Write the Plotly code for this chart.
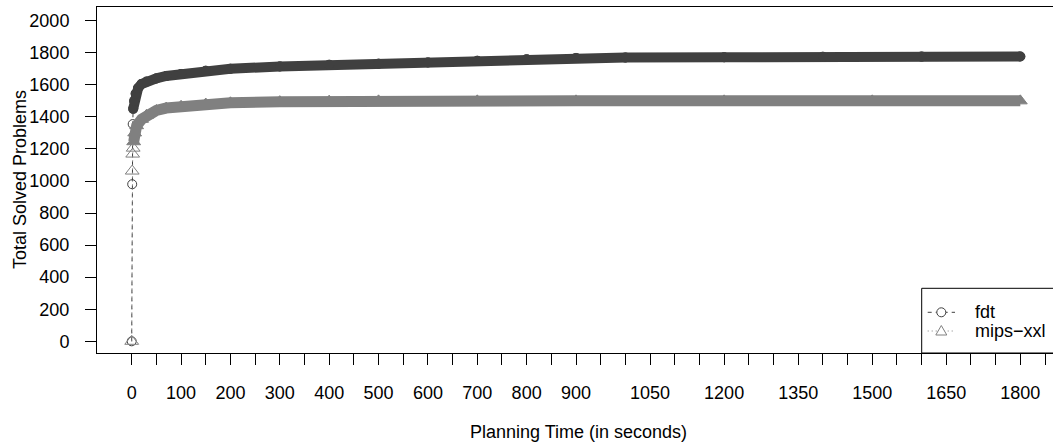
import plotly.graph_objects as go

# ---------------- data ----------------
fdt_time = [0, 1, 2, 3, 5, 8, 13, 20, 30, 50, 70, 100, 150, 200, 300, 400, 500,
            600, 700, 800, 900, 1000, 1200, 1400, 1600, 1800]
fdt_solved = [0, 980, 1355, 1450, 1500, 1545, 1580, 1605, 1620, 1640, 1655, 1668,
              1688, 1700, 1715, 1725, 1732, 1740, 1750, 1760, 1768, 1770, 1772,
              1775, 1776, 1777]

mips_time = [0, 1, 2, 3, 4, 6, 10, 20, 30, 50, 70, 100, 150, 200, 300, 400, 500,
             700, 900, 1200, 1500, 1800]
mips_solved = [0, 1062, 1168, 1205, 1245, 1300, 1345, 1385, 1410, 1440, 1455,
               1466, 1480, 1488, 1495, 1498, 1500, 1500, 1500, 1500, 1500, 1500]

series_names = ["fdt", "mips\u2212xxl"]
x_tick_values = list(range(0, 1851, 50))
x_tick_labeled = [0, 100, 200, 300, 400, 500, 600, 700, 800, 900,
                  1050, 1200, 1350, 1500, 1650, 1800]
y_tick_values = list(range(0, 2001, 200))

# ---------------- styling / geometry ----------------
W, H = 1053, 444
ML, MR, MT, MB = 97, 0, 7, 91
PW, PH = W - ML - MR, H - MT - MB
FONT = "Liberation Sans, Arial, Helvetica, sans-serif"
FS = 18
FDT_COLOR = "#404040"
MIPS_COLOR = "#808080"


def px_x(px):
    return (px - ML) / PW


def px_y(py):
    return (H - MB - py) / PH


x_tick_text = [str(v) if v in x_tick_labeled else "" for v in x_tick_values]

fdt_band_start = fdt_time.index(3)
mips_band_start = mips_time.index(4)

fig = go.Figure()

# thin connecting lines with open symbols (all points)
fig.add_trace(go.Scatter(
    x=fdt_time, y=fdt_solved, mode="lines+markers", name=series_names[0],
    line=dict(color=FDT_COLOR, width=1, dash="4px,4px"),
    marker=dict(symbol="circle-open", size=9, color=FDT_COLOR, line=dict(width=1)),
    showlegend=False, hoverinfo="skip"))
fig.add_trace(go.Scatter(
    x=mips_time, y=mips_solved, mode="lines+markers", name=series_names[1],
    line=dict(color=MIPS_COLOR, width=1, dash="1px,3px"),
    marker=dict(symbol="triangle-up-open", size=12, color=MIPS_COLOR, line=dict(width=1)),
    showlegend=False, hoverinfo="skip"))

# dense overlapping symbols form a thick band
fig.add_trace(go.Scatter(
    x=fdt_time[fdt_band_start:], y=fdt_solved[fdt_band_start:], mode="lines+markers",
    line=dict(color=FDT_COLOR, width=10),
    marker=dict(symbol="circle", size=10, color=FDT_COLOR),
    showlegend=False, hoverinfo="skip"))
fig.add_trace(go.Scatter(
    x=mips_time[mips_band_start:], y=mips_solved[mips_band_start:], mode="lines+markers",
    line=dict(color=MIPS_COLOR, width=11),
    marker=dict(symbol="triangle-up", size=12, color=MIPS_COLOR),
    showlegend=False, hoverinfo="skip"))

# ---------------- legend (drawn by hand, R style) ----------------
shapes = []
annotations = []
leg_left, leg_top = 921.7, 288.3
shapes.append(dict(type="rect", xref="paper", yref="paper",
                   x0=px_x(leg_left), x1=px_x(1075), y0=px_y(H - MB), y1=px_y(leg_top),
                   line=dict(color="black", width=1), fillcolor="white", layer="above"))
rows = [(312.3, FDT_COLOR, "4px,4px", "circle"), (331.0, MIPS_COLOR, "1px,3px", "triangle")]
for (ry, col, dash, sym), name in zip(rows, series_names):
    shapes.append(dict(type="line", xref="paper", yref="paper",
                       x0=px_x(927.7), x1=px_x(955), y0=px_y(ry), y1=px_y(ry),
                       line=dict(color=col, width=1, dash=dash)))
    cx = 941.3
    if sym == "circle":
        shapes.append(dict(type="circle", xref="paper", yref="paper",
                           x0=px_x(cx - 4.5), x1=px_x(cx + 4.5),
                           y0=px_y(ry + 4.5), y1=px_y(ry - 4.5),
                           line=dict(color=col, width=1), fillcolor="white"))
    else:
        p = [(cx - 5.5, ry + 4), (cx + 5.5, ry + 4), (cx, ry - 5.5)]
        path = "M {} {} L {} {} L {} {} Z".format(
            px_x(p[0][0]), px_y(p[0][1]), px_x(p[1][0]), px_y(p[1][1]),
            px_x(p[2][0]), px_y(p[2][1]))
        shapes.append(dict(type="path", xref="paper", yref="paper", path=path,
                           line=dict(color=col, width=1), fillcolor="white"))
    annotations.append(dict(text=name, xref="paper", yref="paper",
                            x=px_x(973.3), y=px_y(ry), xanchor="left", yanchor="middle",
                            showarrow=False, font=dict(family=FONT, size=FS, color="black")))

# axis titles
annotations.append(dict(text="Planning Time (in seconds)", xref="paper", yref="paper",
                        x=px_x(578), y=px_y(432), xanchor="center", yanchor="middle",
                        showarrow=False, font=dict(family=FONT, size=FS, color="black")))
annotations.append(dict(text="Total Solved Problems", xref="paper", yref="paper",
                        x=px_x(20), y=px_y(180), xanchor="center", yanchor="middle",
                        textangle=-90, showarrow=False,
                        font=dict(family=FONT, size=FS, color="black")))

fig.update_layout(
    width=W, height=H, margin=dict(l=ML, r=MR, t=MT, b=MB, pad=0),
    paper_bgcolor="white", plot_bgcolor="white",
    font=dict(family=FONT, size=FS, color="black"),
    shapes=shapes, annotations=annotations, showlegend=False,
)
fig.update_xaxes(
    range=[-70.3, 1866.2], tickmode="array", tickvals=x_tick_values, ticktext=x_tick_text,
    ticks="outside", ticklen=11, tickwidth=1, tickcolor="black",
    showline=True, linecolor="black", linewidth=1, mirror=True,
    showgrid=False, zeroline=False, tickfont=dict(family=FONT, size=FS),
    ticklabelstandoff=12)
fig.update_yaxes(
    range=[-73, 2085.5], tickmode="array", tickvals=y_tick_values,
    ticks="outside", ticklen=11, tickwidth=1, tickcolor="black",
    showline=True, linecolor="black", linewidth=1, mirror=False,
    showgrid=False, zeroline=False, tickfont=dict(family=FONT, size=FS),
    ticklabelstandoff=12)

fig.write_html("out.html")
